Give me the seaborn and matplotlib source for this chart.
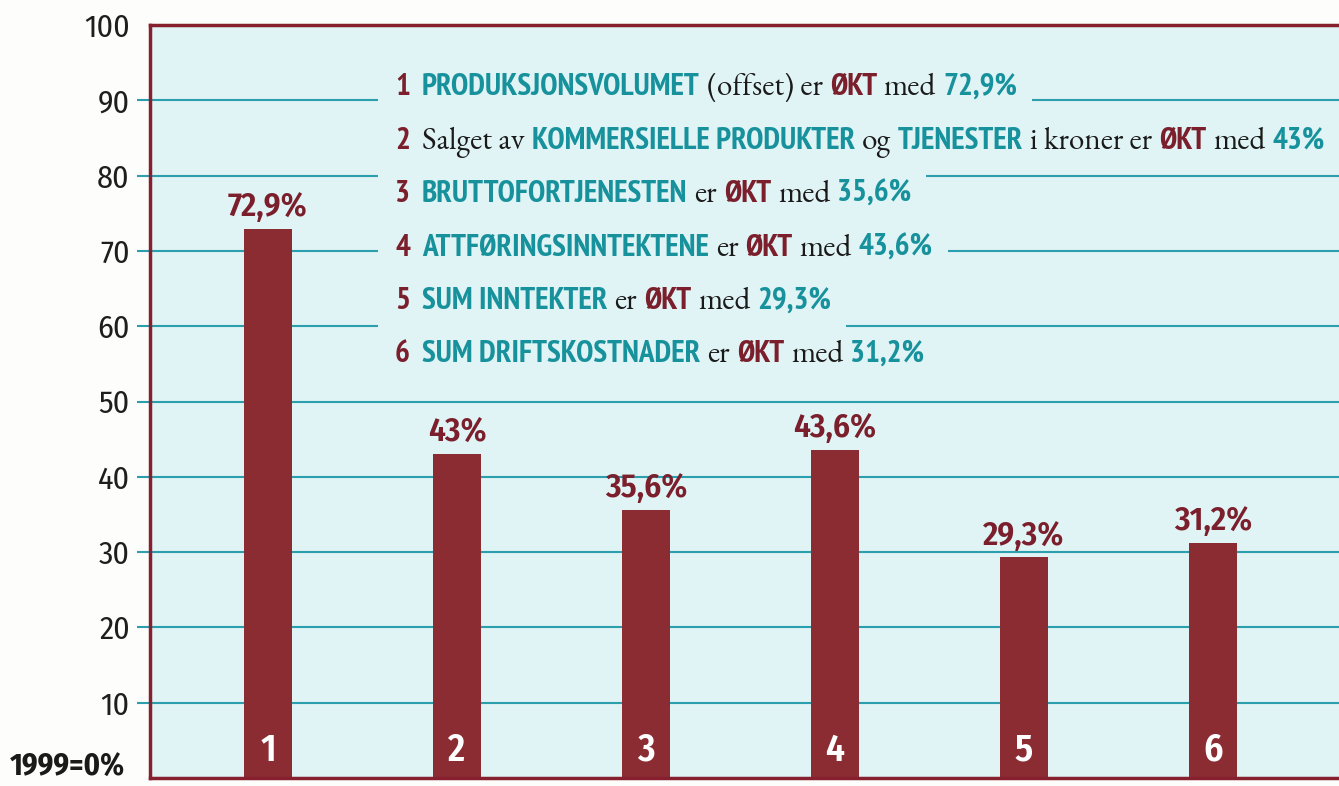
import matplotlib
matplotlib.use("Agg")
import matplotlib.pyplot as plt
from matplotlib.patches import Rectangle
import pandas as pd
import seaborn as sns

# data
CATEGORIES = ["1", "2", "3", "4", "5", "6"]
VALUES = [72.9, 43.0, 35.6, 43.6, 29.3, 31.2]
VALUE_LABELS = ["72,9%", "43%", "35,6%", "43,6%", "29,3%", "31,2%"]
Y_TICKS = [10, 20, 30, 40, 50, 60, 70, 80, 90, 100]
BASE_LABEL = "1999=0%"

# legend rows: (text, style)
ROWS = [
    [("1", "num"), ("PRODUKSJONSVOLUMET", "kw"), ("(offset) er", "ser"), ("ØKT", "okt"),
     ("med", "ser"), ("72,9%", "kw")],
    [("2", "num"), ("Salget av", "ser"), ("KOMMERSIELLE PRODUKTER", "kw"), ("og", "ser"),
     ("TJENESTER", "kw"), ("i kroner er", "ser"), ("ØKT", "okt"), ("med", "ser"), ("43%", "kw")],
    [("3", "num"), ("BRUTTOFORTJENESTEN", "kw"), ("er", "ser"), ("ØKT", "okt"),
     ("med", "ser"), ("35,6%", "kw")],
    [("4", "num"), ("ATTFØRINGSINNTEKTENE", "kw"), ("er", "ser"), ("ØKT", "okt"),
     ("med", "ser"), ("43,6%", "kw")],
    [("5", "num"), ("SUM INNTEKTER", "kw"), ("er", "ser"), ("ØKT", "okt"),
     ("med", "ser"), ("29,3%", "kw")],
    [("6", "num"), ("SUM DRIFTSKOSTNADER", "kw"), ("er", "ser"), ("ØKT", "okt"),
     ("med", "ser"), ("31,2%", "kw")],
]

BAR = "#8b2c33"
DARKRED = "#7a1f2b"
TEAL = "#17929c"
GRID = "#2b9fae"
BG = "#e0f3f5"

COND = ["PT Sans Narrow", "Fira Sans Condensed", "DejaVu Sans"]
FIRA = ["Fira Sans Condensed", "DejaVu Sans"]
SERIF = ["EB Garamond", "Liberation Serif", "DejaVu Serif"]

STYLES = {
    "num": dict(family=COND, weight="bold", color=DARKRED, fontsize=22.5),
    "kw": dict(family=COND, weight="bold", color=TEAL, fontsize=22.5),
    "okt": dict(family=COND, weight="bold", color=DARKRED, fontsize=22.5),
    "ser": dict(family=SERIF, weight="normal", color="#1a1a1a", fontsize=22.5),
}

df = pd.DataFrame({"nr": CATEGORIES, "verdi": VALUES})

W, H = 1339, 786
fig = plt.figure(figsize=(W / 100, H / 100), dpi=100)
fig.patch.set_facecolor("#fdfdfb")
ax = fig.add_axes([150 / W, 8 / H, 1 - 150 / W, (778 - 25) / H])
ax.set_facecolor(BG)

sns.barplot(data=df, x="nr", y="verdi", color=BAR, saturation=1, width=0.254, ax=ax, zorder=2)

ax.set_xlim(-118 / 189, -118 / 189 + (W - 150) / 189)
ax.set_ylim(0, 100)
ax.set_yticks(Y_TICKS)
ax.set_yticklabels([str(t) for t in Y_TICKS], family=FIRA, fontweight="normal", fontsize=23,
                   color="#1e1e1e")
ax.tick_params(axis="y", direction="out", length=9.5, width=1.5, color=GRID, pad=5)
ax.yaxis.get_major_ticks()[-1].tick1line.set_visible(False)
ax.tick_params(axis="x", length=0, labelbottom=False)
ax.set_xlabel("")
ax.set_ylabel("")
ax.set_axisbelow(True)
ax.grid(axis="y", color=GRID, linewidth=1.5)
ax.grid(axis="x", visible=False)
for side in ["left", "top", "bottom"]:
    ax.spines[side].set_color("#86202e")
    ax.spines[side].set_linewidth(2.5)
ax.spines["right"].set_visible(False)

# value labels over the bars
ax.bar_label(ax.containers[0], labels=VALUE_LABELS, padding=4, family=FIRA, fontweight="semibold",
             fontsize=24, color=DARKRED)

# bar numbers at the foot of each bar
for i, c in enumerate(CATEGORIES):
    ax.text(i, 2.3, c, ha="center", va="baseline", color="white", family=FIRA,
            fontweight="semibold", fontsize=27)

fig.text(10 / W, 3 / H, BASE_LABEL, ha="left", va="bottom", family=FIRA, fontweight="bold",
         fontsize=22, color="#1a1a1a")

# legend rows written piece by piece
renderer = fig.canvas.get_renderer()
baselines = [95, 149, 202, 256, 309, 362]
x_start = 395
for row, base in zip(ROWS, baselines):
    x = x_start
    for k, (txt, style) in enumerate(row):
        t = fig.text(x / W, 1 - base / H, txt, ha="left", va="baseline", zorder=4, **STYLES[style])
        bb = t.get_window_extent(renderer)
        x = bb.x1 + (12 if k == 0 else 7)
    x_end = x
    fig.add_artist(Rectangle(((x_start - 17) / W, 1 - (base + 20) / H), (x_end - x_start + 25) / W,
                             50 / H, transform=fig.transFigure, facecolor=BG, edgecolor="none",
                             zorder=2))

fig.savefig("out.png", dpi=100, facecolor=fig.get_facecolor())
